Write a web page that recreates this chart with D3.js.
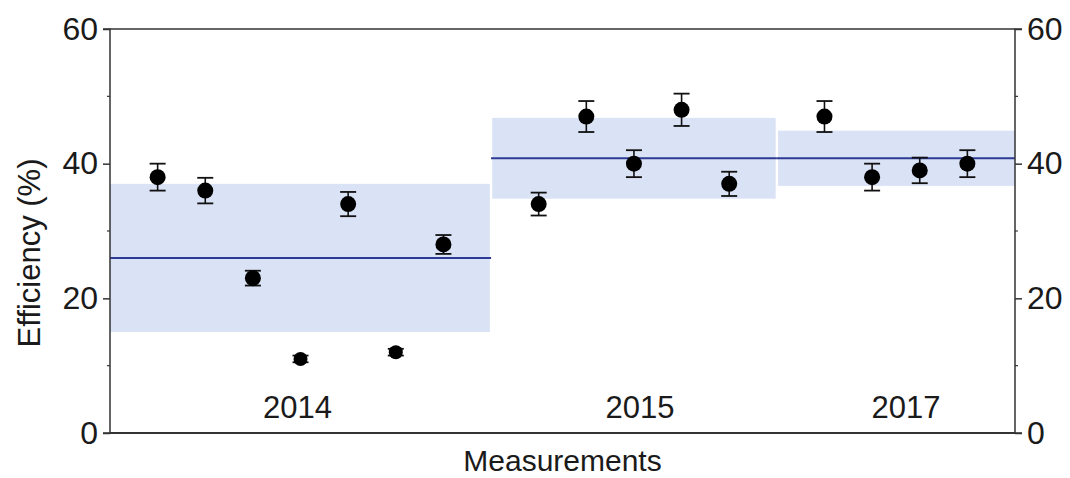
<!DOCTYPE html>
<html>
<head>
<meta charset="utf-8">
<script src="https://cdn.jsdelivr.net/npm/d3@7"></script>
<style>
  html, body { margin: 0; padding: 0; background: #fff; }
  svg { display: block; }
  text { font-family: "Liberation Sans", Arial, Helvetica, sans-serif; fill: #1a1a1a; }
</style>
</head>
<body>
<svg id="chart" width="1070" height="478"></svg>
<script>
// Measurement campaigns
const years      = ["2014", "2015", "2017"];
const groupStart = [0, 8, 14];
const groupEnd   = [8, 14, 19];
const groupMean  = [26, 40.8, 40.8];
const groupSD    = [11, 6, 4.1];

// Individual measurements (position along the x index, efficiency %, error)
const pointIndex = [1, 2, 3, 4, 5, 6, 7, 9, 10, 11, 12, 13, 15, 16, 17, 18];
const values     = [38, 36, 23, 11, 34, 12, 28, 34, 47, 40, 48, 37, 47, 38, 39, 40];
const errors     = [2, 1.9, 1.1, 0.5, 1.8, 0.5, 1.4, 1.7, 2.3, 2, 2.4, 1.8, 2.3, 2, 1.9, 2];

const yTicks      = [0, 20, 40, 60];
const yMinorTicks = [10, 30, 50];

const svg = d3.select("#chart");
const plotLeft = 110, plotRight = 1015, plotTop = 29, plotBottom = 433;

const x = d3.scaleLinear().domain([0, 19]).range([plotLeft, plotRight]);
const y = d3.scaleLinear().domain([0, 60]).range([plotBottom, plotTop]);

const axisColor = "#333";
const fontSize = 31;

// Spread bands (mean ± sd) per campaign
const groups = years.map((yr, i) => ({
  year: yr, start: groupStart[i], end: groupEnd[i], mean: groupMean[i], sd: groupSD[i]
}));

const gap = 1.2;
svg.append("g").selectAll("rect").data(groups).join("rect")
  .attr("x", d => x(d.start) + (d.start === 0 ? 0 : gap))
  .attr("width", d => (x(d.end) - (d.end === 19 ? 0 : gap)) - (x(d.start) + (d.start === 0 ? 0 : gap)))
  .attr("y", d => y(d.mean + d.sd))
  .attr("height", d => y(d.mean - d.sd) - y(d.mean + d.sd))
  .attr("fill", "#dae2f5");

svg.append("g").selectAll("line").data(groups).join("line")
  .attr("x1", d => x(d.start))
  .attr("x2", d => x(d.end))
  .attr("y1", d => y(d.mean))
  .attr("y2", d => y(d.mean))
  .attr("stroke", "#2d3b94")
  .attr("stroke-width", 2);

// Year labels, set slightly off the band centres
const labelNudge = { "2014": -3, "2015": 6, "2017": 10 };
svg.append("g").selectAll("text").data(groups).join("text")
  .attr("x", d => x((d.start + d.end) / 2) + labelNudge[d.year])
  .attr("y", 418)
  .attr("text-anchor", "middle")
  .attr("font-size", 31)
  .text(d => d.year);

// Axes
const yLeft = d3.axisLeft(y).tickValues(yTicks).tickSize(7).tickPadding(5).tickFormat(d3.format("d"));
const yRight = d3.axisRight(y).tickValues(yTicks).tickSize(7).tickPadding(5).tickFormat(d3.format("d"));

function styleAxis(g) {
  g.select(".domain").attr("stroke", axisColor).attr("stroke-width", 1.5);
  g.selectAll(".tick line").attr("stroke", axisColor).attr("stroke-width", 1.5);
  g.selectAll(".tick text").attr("font-size", 32).attr("fill", "#1a1a1a")
    .attr("font-family", "'Liberation Sans', Arial, sans-serif");
}

svg.append("g").attr("transform", `translate(${plotLeft},0)`).call(yLeft).call(styleAxis)
  .call(g => g.select(".domain").attr("d", `M-7,${plotTop}H0V${plotBottom}H-7`));
svg.append("g").attr("transform", `translate(${plotRight},0)`).call(yRight).call(styleAxis)
  .call(g => g.select(".domain").attr("d", `M7,${plotTop}H0V${plotBottom}H7`));

// Minor ticks
svg.append("g").selectAll("line").data(yMinorTicks).join("line")
  .attr("x1", plotLeft - 3).attr("x2", plotLeft)
  .attr("y1", d => y(d)).attr("y2", d => y(d))
  .attr("stroke", axisColor).attr("stroke-width", 1.2);
svg.append("g").selectAll("line").data(yMinorTicks).join("line")
  .attr("x1", plotRight).attr("x2", plotRight + 3)
  .attr("y1", d => y(d)).attr("y2", d => y(d))
  .attr("stroke", axisColor).attr("stroke-width", 1.2);

// Top and bottom frame lines
svg.append("line").attr("x1", plotLeft).attr("x2", plotRight).attr("y1", plotTop).attr("y2", plotTop)
  .attr("stroke", axisColor).attr("stroke-width", 1.5);
svg.append("line").attr("x1", plotLeft).attr("x2", plotRight).attr("y1", plotBottom).attr("y2", plotBottom)
  .attr("stroke", axisColor).attr("stroke-width", 1.8);

// Measurements with error bars
const pts = pointIndex.map((idx, i) => ({ idx, v: values[i], e: errors[i] }));
const pg = svg.append("g").selectAll("g").data(pts).join("g");
const cap = 8;
pg.append("line")
  .attr("x1", d => x(d.idx)).attr("x2", d => x(d.idx))
  .attr("y1", d => y(d.v + d.e)).attr("y2", d => y(d.v - d.e))
  .attr("stroke", "#111").attr("stroke-width", 1.6);
pg.append("line")
  .attr("x1", d => x(d.idx) - cap).attr("x2", d => x(d.idx) + cap)
  .attr("y1", d => y(d.v + d.e)).attr("y2", d => y(d.v + d.e))
  .attr("stroke", "#111").attr("stroke-width", 1.8);
pg.append("line")
  .attr("x1", d => x(d.idx) - cap).attr("x2", d => x(d.idx) + cap)
  .attr("y1", d => y(d.v - d.e)).attr("y2", d => y(d.v - d.e))
  .attr("stroke", "#111").attr("stroke-width", 1.8);
pg.append("circle")
  .attr("cx", d => x(d.idx)).attr("cy", d => y(d.v))
  .attr("r", d => d.e < 1 ? 7 : 8)
  .attr("fill", "#000");

// Axis titles
svg.append("text")
  .attr("x", (plotLeft + plotRight) / 2 + 0).attr("y", 471)
  .attr("text-anchor", "middle").attr("font-size", 30)
  .text("Measurements");

svg.append("text")
  .attr("transform", `translate(40,${(plotTop + plotBottom) / 2 + 22}) rotate(-90)`)
  .attr("text-anchor", "middle").attr("font-size", fontSize)
  .text("Efficiency (%)");
</script>
</body>
</html>
